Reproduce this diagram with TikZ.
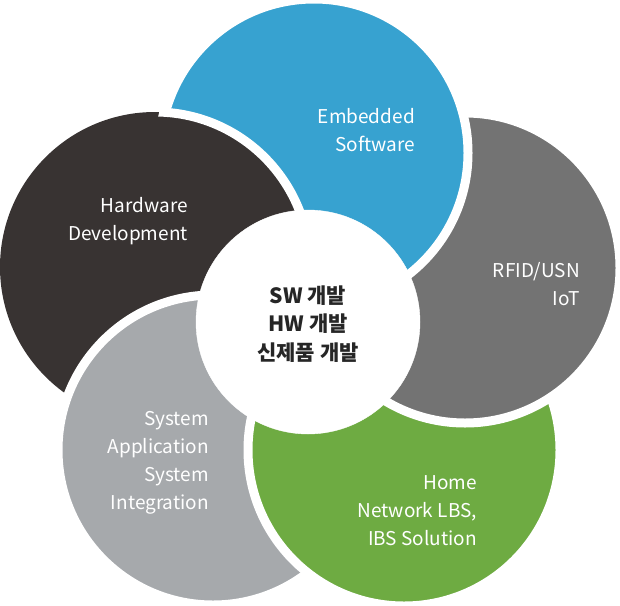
\documentclass[tikz,border=0pt]{standalone}
\usepackage{fontspec}
\setmainfont{Noto Sans CJK KR}
\begin{document}
\begin{tikzpicture}[x=1pt,y=-1pt,
  ring/.style={draw=white,line width=9pt},
  lbl/.style={text=white,align=right,anchor=north east,inner sep=0pt,font=\fontsize{19}{28}\selectfont}]
\useasboundingbox (0,0) rectangle (620,605);
\definecolor{cblue}{HTML}{37A2D0}
\definecolor{cgray}{HTML}{737373}
\definecolor{cgreen}{HTML}{6EAB42}
\definecolor{clg}{HTML}{A6A9AC}
\definecolor{cdark}{HTML}{383332}
\def\dk{(155,267) circle (155)}
\fill[cdark] \dk;
\filldraw[fill=clg,ring] (213,450) circle (155);
\filldraw[fill=cgreen,ring] (404,450) circle (156);
\filldraw[fill=cgray,ring] (465,268) circle (155);
\filldraw[fill=cblue,ring] (314,153) circle (154);
\begin{scope}
\clip (314,153) circle (160);
\filldraw[fill=cdark,ring] \dk;
\end{scope}
\filldraw[fill=white,draw=white] (308,322) circle (112);
\node[lbl] (emb) at (415,108) {Embedded\\Software};
\node[lbl] (hw) at (188,197) {Hardware\\Development};
\node[lbl] (rfid) at (580,262) {RFID/USN\\IoT};
\node[lbl] (sys) at (209,411) {System\\Application\\System\\Integration};
\node[lbl] (home) at (477,475) {Home\\Network LBS,\\IBS Solution};
\node[align=center,inner sep=0pt,font=\fontsize{21}{28.5}\selectfont\bfseries,text=black!85] (ctr) at (308,324) {SW 개발\\HW 개발\\신제품 개발};
\end{tikzpicture}
\end{document}
